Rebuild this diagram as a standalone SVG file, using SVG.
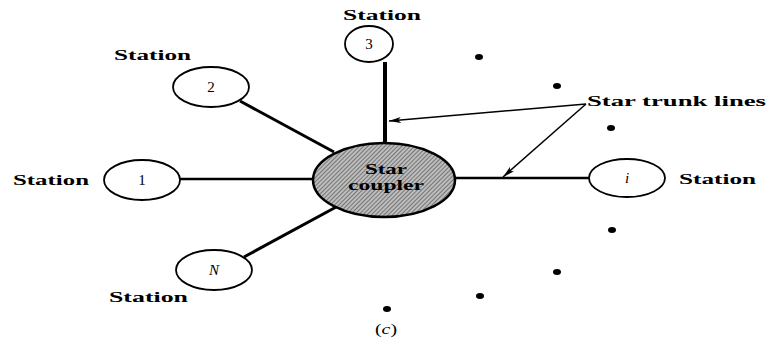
<svg xmlns="http://www.w3.org/2000/svg" width="769" height="346" viewBox="0 0 769 346">
<style>
.st{fill:#fff;stroke:#000;stroke-width:1.8}
.lbl{font-family:"Liberation Serif",serif;font-size:14px;font-weight:bold;fill:#000}
.num{font-family:"Liberation Serif",serif;font-size:15px;fill:#000;text-anchor:middle}
.trunk{stroke:#000;fill:none}
.dot{fill:#000}
</style>
<defs>
<pattern id="hatch" width="3" height="3" patternUnits="userSpaceOnUse" patternTransform="rotate(45)">
<rect width="3" height="3" fill="#bdbdbd"/>
<line x1="0" y1="0" x2="0" y2="3" stroke="#444" stroke-width="1.2"/>
</pattern>
<marker id="ah" viewBox="0 0 12 6" refX="12" refY="3" markerWidth="12" markerHeight="6" markerUnits="userSpaceOnUse" orient="auto">
<path d="M0,0 L12,3 L0,6 L3,3 Z" fill="#000"/>
</marker>
</defs>
<rect width="769" height="346" fill="#fff"/>
<g id="connectors">
<line class="trunk" x1="385" y1="62" x2="385" y2="144" stroke-width="4"/>
<line class="trunk" x1="240" y1="101" x2="334" y2="152" stroke-width="3"/>
<line class="trunk" x1="180" y1="179" x2="314" y2="179" stroke-width="2.5"/>
<line class="trunk" x1="454" y1="178" x2="590" y2="178" stroke-width="2.5"/>
<line class="trunk" x1="244" y1="257" x2="338" y2="206" stroke-width="3"/>
<line class="trunk" x1="586" y1="104" x2="389" y2="121" stroke-width="1.5" marker-end="url(#ah)"/>
<line class="trunk" x1="586" y1="104" x2="503" y2="177" stroke-width="1.5" marker-end="url(#ah)"/>
</g>
<g id="coupler">
<ellipse cx="384" cy="180" rx="71" ry="37" fill="url(#hatch)" stroke="#000" stroke-width="2.5"/>
<text x="386" y="174" class="lbl" text-anchor="middle" textLength="42" lengthAdjust="spacingAndGlyphs" style="font-size:15px">Star</text>
<text x="386" y="190" class="lbl" text-anchor="middle" textLength="76" lengthAdjust="spacingAndGlyphs" style="font-size:15px">coupler</text>
</g>
<g id="station3">
<ellipse class="st" cx="369" cy="44" rx="24" ry="18"/>
<text class="num" x="369" y="49">3</text>
<text class="lbl" x="343" y="20" textLength="78" lengthAdjust="spacingAndGlyphs">Station</text>
</g>
<g id="station2">
<ellipse class="st" cx="211" cy="87" rx="38" ry="20"/>
<text class="num" x="211" y="92">2</text>
<text class="lbl" x="114" y="60" textLength="77" lengthAdjust="spacingAndGlyphs">Station</text>
</g>
<g id="station1">
<ellipse class="st" cx="142" cy="180" rx="38" ry="20"/>
<text class="num" x="142" y="185">1</text>
<text class="lbl" x="13" y="185" textLength="76" lengthAdjust="spacingAndGlyphs">Station</text>
</g>
<g id="stationI">
<ellipse class="st" cx="627" cy="178" rx="38" ry="19"/>
<text class="num" x="627" y="183" font-style="italic">i</text>
<text class="lbl" x="679" y="184" textLength="77" lengthAdjust="spacingAndGlyphs">Station</text>
</g>
<g id="stationN">
<ellipse class="st" cx="214" cy="270" rx="38" ry="20"/>
<text class="num" x="214" y="275" font-style="italic">N</text>
<text class="lbl" x="109" y="302" textLength="79" lengthAdjust="spacingAndGlyphs">Station</text>
</g>
<g id="dots">
<ellipse class="dot" cx="479" cy="57" rx="4" ry="3"/>
<ellipse class="dot" cx="557" cy="86" rx="4" ry="3"/>
<ellipse class="dot" cx="611" cy="128" rx="4" ry="3"/>
<ellipse class="dot" cx="612" cy="230" rx="4" ry="3"/>
<ellipse class="dot" cx="557" cy="272" rx="4" ry="3"/>
<ellipse class="dot" cx="480" cy="296" rx="4" ry="3"/>
<ellipse class="dot" cx="387" cy="309" rx="4" ry="3"/>
</g>
<g id="trunk-label">
<text class="lbl" x="587" y="106" textLength="179" lengthAdjust="spacingAndGlyphs">Star trunk lines</text>
</g>
<g id="caption">
<text x="386" y="334" font-family="Liberation Serif,serif" font-size="14" text-anchor="middle" textLength="22" lengthAdjust="spacingAndGlyphs">(<tspan font-style="italic">c</tspan>)</text>
</g>
</svg>
